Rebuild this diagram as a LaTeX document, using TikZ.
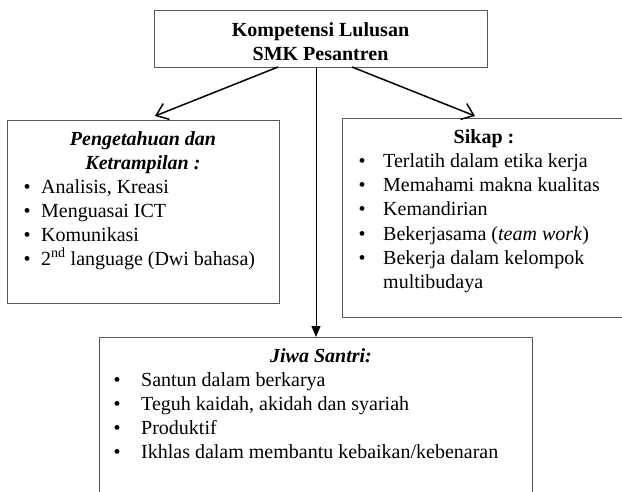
\documentclass[tikz,border=0pt]{standalone}
\usepackage{fontspec}
\setmainfont{Liberation Serif}
\usetikzlibrary{arrows.meta}

\tikzset{
  frame/.style={draw=black!65, line width=1.2pt, fill=none, inner sep=0pt},
  txt/.style={inner sep=0pt, anchor=base west, font=\fontsize{20}{24}\selectfont},
  head/.style={inner sep=0pt, anchor=base, font=\fontsize{20}{24}\selectfont\bfseries},
  branch/.style={line width=1.5pt, -{Straight Barb[length=11pt,width=17pt,line width=1.5pt]}},
  trunk/.style={line width=1pt, -{Triangle[length=11pt,width=9pt]}},
}
\newcommand{\bul}[1]{\llap{\textbullet\hspace{#1}}}

\begin{document}
\begin{tikzpicture}[x=1pt, y=-1pt]
  \useasboundingbox (0,0) rectangle (622,491);
  \clip (0,0) rectangle (622,491);

  % boxes
  \node[frame, anchor=north west, minimum width=333pt, minimum height=57pt] (top) at (154,10) {};
  \node[frame, anchor=north west, minimum width=272pt, minimum height=183pt] (left) at (7,120) {};
  \node[frame, anchor=north west, minimum width=284pt, minimum height=199pt] (right) at (342,118) {};
  \node[frame, anchor=north west, minimum width=433pt, minimum height=170pt] (bottom) at (99,337) {};

  % title
  \node[head] (t1) at (320.5,36) {Kompetensi Lulusan};
  \node[head] (t2) at (320.5,60) {SMK Pesantren};

  % knowledge and skills
  \node[head] (l0a) at (143,145) {\itshape Pengetahuan dan};
  \node[head] (l0b) at (143,169) {\itshape Ketrampilan :};
  \node[txt] (l1) at (41,193) {\bul{10.5pt}Analisis, Kreasi};
  \node[txt] (l2) at (41,217) {\bul{10.5pt}Menguasai ICT};
  \node[txt] (l3) at (41,241) {\bul{10.5pt}Komunikasi};
  \node[txt] (l4) at (41,265) {\bul{10.5pt}2\textsuperscript{nd} language (Dwi bahasa)};

  % attitude
  \node[head] (r0) at (484,143) {Sikap :};
  \node[txt] (r1) at (383,167) {\bul{17.5pt}Terlatih dalam etika kerja};
  \node[txt] (r2) at (383,191) {\bul{17.5pt}Memahami makna kualitas};
  \node[txt] (r3) at (383,215) {\bul{17.5pt}Kemandirian};
  \node[txt] (r4) at (383,240) {\bul{17.5pt}Bekerjasama (\textit{team work})};
  \node[txt] (r5) at (383,264) {\bul{17.5pt}Bekerja dalam kelompok};
  \node[txt] (r6) at (383,288) {multibudaya};

  % santri spirit
  \node[head] (b0) at (321,362) {\itshape Jiwa Santri:};
  \node[txt] (b1) at (141,386) {\bul{20.5pt}Santun dalam berkarya};
  \node[txt] (b2) at (141,410) {\bul{20.5pt}Teguh kaidah, akidah dan syariah};
  \node[txt] (b3) at (141,434) {\bul{20.5pt}Produktif};
  \node[txt] (b4) at (141,458) {\bul{20.5pt}Ikhlas dalam membantu kebaikan/kebenaran};

  % connectors
  \coordinate (ls) at (278,67);
  \coordinate (le) at (155,116);
  \coordinate (rs) at (352,67);
  \coordinate (re) at (475,116);
  \draw[branch] (ls) -- (le);
  \draw[branch] (rs) -- (re);
  \draw[trunk] (top.south -| 316,0) -- (bottom.north -| 316,0);
\end{tikzpicture}
\end{document}
